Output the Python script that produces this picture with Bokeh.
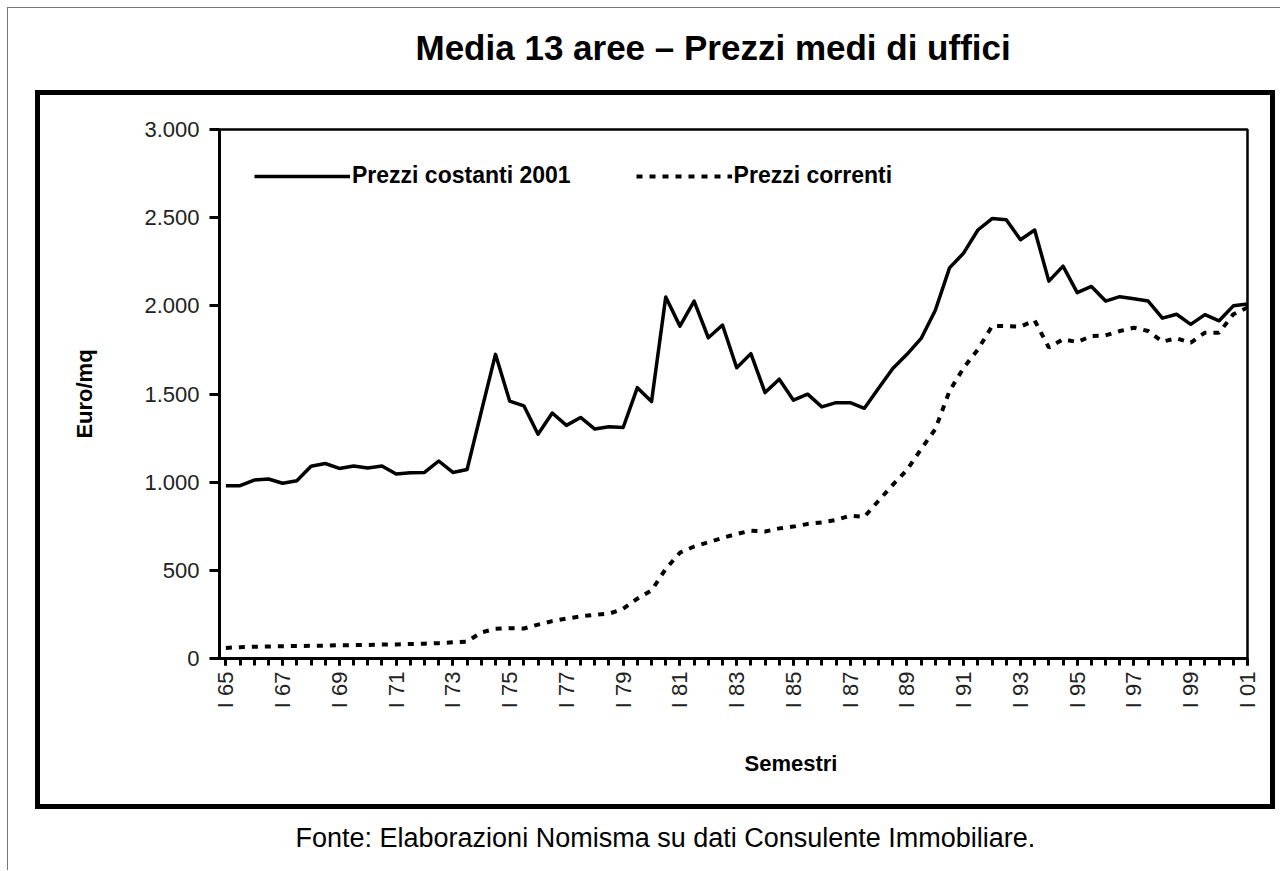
import math
from bokeh.plotting import figure
from bokeh.models import (Range1d, FixedTicker, Legend, LegendItem, Title,
                          ColumnDataSource, LinearAxis, InlineStyleSheet)
from bokeh.embed import file_html
from bokeh.resources import INLINE

# ---------------- data ----------------
semestri = [
    "I 65", "II 65", "I 66", "II 66", "I 67", "II 67", "I 68", "II 68",
    "I 69", "II 69", "I 70", "II 70", "I 71", "II 71", "I 72", "II 72",
    "I 73", "II 73", "I 74", "II 74", "I 75", "II 75", "I 76", "II 76",
    "I 77", "II 77", "I 78", "II 78", "I 79", "II 79", "I 80", "II 80",
    "I 81", "II 81", "I 82", "II 82", "I 83", "II 83", "I 84", "II 84",
    "I 85", "II 85", "I 86", "II 86", "I 87", "II 87", "I 88", "II 88",
    "I 89", "II 89", "I 90", "II 90", "I 91", "II 91", "I 92", "II 92",
    "I 93", "II 93", "I 94", "II 94", "I 95", "II 95", "I 96", "II 96",
    "I 97", "II 97", "I 98", "II 98", "I 99", "II 99", "I 00", "II 00",
    "I 01",
]

prezzi_costanti = [
    980, 980, 1012, 1018, 994, 1008, 1090, 1106, 1078, 1092,
    1080, 1092, 1046, 1054, 1055, 1120, 1055, 1072, 1400, 1725,
    1460, 1433, 1272, 1392, 1322, 1367, 1301, 1314, 1310, 1536,
    1457, 2050, 1885, 2027, 1819, 1891, 1649, 1729, 1508, 1584,
    1465, 1499, 1427, 1451, 1451, 1419, 1532, 1645, 1725, 1815,
    1975, 2215, 2300, 2430, 2495, 2488, 2375, 2430, 2140, 2225,
    2075, 2110, 2027, 2052, 2040, 2027, 1930, 1952, 1895, 1950,
    1915, 2000, 2010,
]

prezzi_correnti = [
    60, 64, 67, 68, 70, 71, 72, 73, 75, 76,
    77, 79, 80, 82, 84, 87, 92, 96, 148, 168,
    172, 170, 192, 212, 226, 239, 248, 254, 282, 339,
    386, 508, 600, 635, 659, 684, 706, 725, 720, 738,
    748, 763, 772, 786, 810, 804, 895, 985, 1070, 1188,
    1301, 1517, 1649, 1753, 1885, 1885, 1882, 1917, 1763, 1810,
    1795, 1829, 1832, 1857, 1876, 1857, 1797, 1816, 1791, 1848,
    1848, 1952, 1990,
]

x_tick_labels = ["I 65", "I 67", "I 69", "I 71", "I 73", "I 75", "I 77",
                 "I 79", "I 81", "I 83", "I 85", "I 87", "I 89", "I 91",
                 "I 93", "I 95", "I 97", "I 99", "I 01"]

y_ticks = [0, 500, 1000, 1500, 2000, 2500, 3000]
y_tick_labels = ["0", "500", "1.000", "1.500", "2.000", "2.500", "3.000"]

titolo = "Media 13 aree \u2013 Prezzi medi di uffici"
fonte_txt = "Fonte: Elaborazioni Nomisma su dati Consulente Immobiliare."
serie_nomi = ["Prezzi costanti 2001", "Prezzi correnti"]

# ---------------- plot ----------------
FONT = "Liberation Sans"
idx = list(range(len(semestri)))
src = ColumnDataSource(dict(x=idx, costanti=prezzi_costanti, correnti=prezzi_correnti))

css = InlineStyleSheet(css="""
:host { position: relative; }
:host::before {
  content: ""; position: absolute;
  left: 34.5px; top: 89.5px; width: 1240px; height: 719px;
  border: 5px solid #000; box-sizing: border-box;
  z-index: 10; pointer-events: none;
}
:host::after {
  content: ""; position: absolute;
  left: 7px; top: 7px; width: 1273px; height: 863px;
  border-left: 1.5px solid #777; border-top: 1.5px solid #777;
  box-sizing: border-box; z-index: 10; pointer-events: none;
}
""")

p = figure(width=1280, height=870, output_backend="svg", toolbar_location=None,
           x_range=Range1d(-0.45, idx[-1]), y_range=Range1d(y_ticks[0], y_ticks[-1]),
           min_border_left=219, min_border_right=33, min_border_top=129,
           min_border_bottom=212, stylesheets=[css])
p.background_fill_color = "white"
p.border_fill_color = "white"
p.grid.visible = False
p.outline_line_color = "black"
p.outline_line_width = 2.5
p.outline_line_alpha = 1.0

r1 = p.line("x", "costanti", source=src, line_color="black", line_width=3.5,
            line_join="round")
r2 = p.line("x", "correnti", source=src, line_color="black", line_width=4,
            line_dash="6 7")

# y axis
yax = p.yaxis[0]
yax.ticker = FixedTicker(ticks=y_ticks)
yax.major_label_overrides = {t: l for t, l in zip(y_ticks, y_tick_labels)}
yax.major_tick_out = 10
yax.major_tick_in = 0
yax.minor_tick_out = 0
yax.minor_tick_in = 0
yax.major_tick_line_width = 3
yax.axis_line_width = 3
yax.major_label_standoff = 10
yax.major_label_text_font = FONT
yax.major_label_text_font_size = "22px"
yax.major_label_text_color = "#222222"
yax.axis_label = "Euro/mq"
yax.axis_label_standoff = 44
yax.axis_label_text_font = FONT
yax.axis_label_text_font_size = "22px"
yax.axis_label_text_font_style = "bold"
yax.axis_label_text_color = "black"

# x axis (the bottom one)
x_tick_pos = [semestri.index(t) for t in x_tick_labels]
xax = p.below[0]
xax.ticker = FixedTicker(ticks=x_tick_pos, minor_ticks=idx)
xax.major_label_overrides = {t: l for t, l in zip(x_tick_pos, x_tick_labels)}
xax.major_label_orientation = math.pi / 2
xax.major_tick_out = 7
xax.major_tick_in = 0
xax.minor_tick_out = 7
xax.minor_tick_in = 0
xax.major_tick_line_width = 3
xax.minor_tick_line_width = 3
xax.axis_line_width = 3
xax.major_label_standoff = 6
xax.major_label_text_font = FONT
xax.major_label_text_font_size = "22px"
xax.major_label_text_color = "#222222"

# invisible spacer between frame and title (one hidden tick gives it height)
spacer = LinearAxis(ticker=FixedTicker(ticks=[36]), axis_line_color=None,
                    major_tick_line_color=None, minor_tick_line_color=None,
                    major_tick_out=58, major_tick_in=0, minor_tick_out=0,
                    minor_tick_in=0, major_label_standoff=0,
                    major_label_overrides={36: ""},
                    major_label_text_font_size="1px",
                    axis_label_standoff=0, major_label_text_color=None)
p.add_layout(spacer, "above")

# title
p.title.text = titolo
p.title.text_font = FONT
p.title.text_font_size = "35px"
p.title.text_font_style = "bold"
p.title.text_color = "black"
p.title.align = "left"
p.title.offset = 196
p.title.standoff = 10

# legend
legend = Legend(items=[LegendItem(label=serie_nomi[0], renderers=[r1]),
                       LegendItem(label=serie_nomi[1], renderers=[r2])],
                location=(35, 469), orientation="horizontal",
                glyph_width=96, glyph_height=22, label_standoff=2, spacing=65,
                padding=0, margin=0, border_line_color=None,
                background_fill_alpha=0,
                label_text_font=FONT, label_text_font_size="23px",
                label_text_font_style="bold", label_text_color="black")
p.add_layout(legend)

# below texts
sem = Title(text="Semestri", align="left", offset=525, standoff=74,
            text_font=FONT, text_font_size="22px", text_font_style="bold",
            text_color="black")
p.add_layout(sem, "below")
fonte = Title(text=fonte_txt, align="left", offset=76, standoff=16,
              text_font=FONT, text_font_size="27px", text_font_style="normal",
              text_color="black")
p.add_layout(fonte, "below")

open("out.html", "w").write(file_html(p, INLINE))
